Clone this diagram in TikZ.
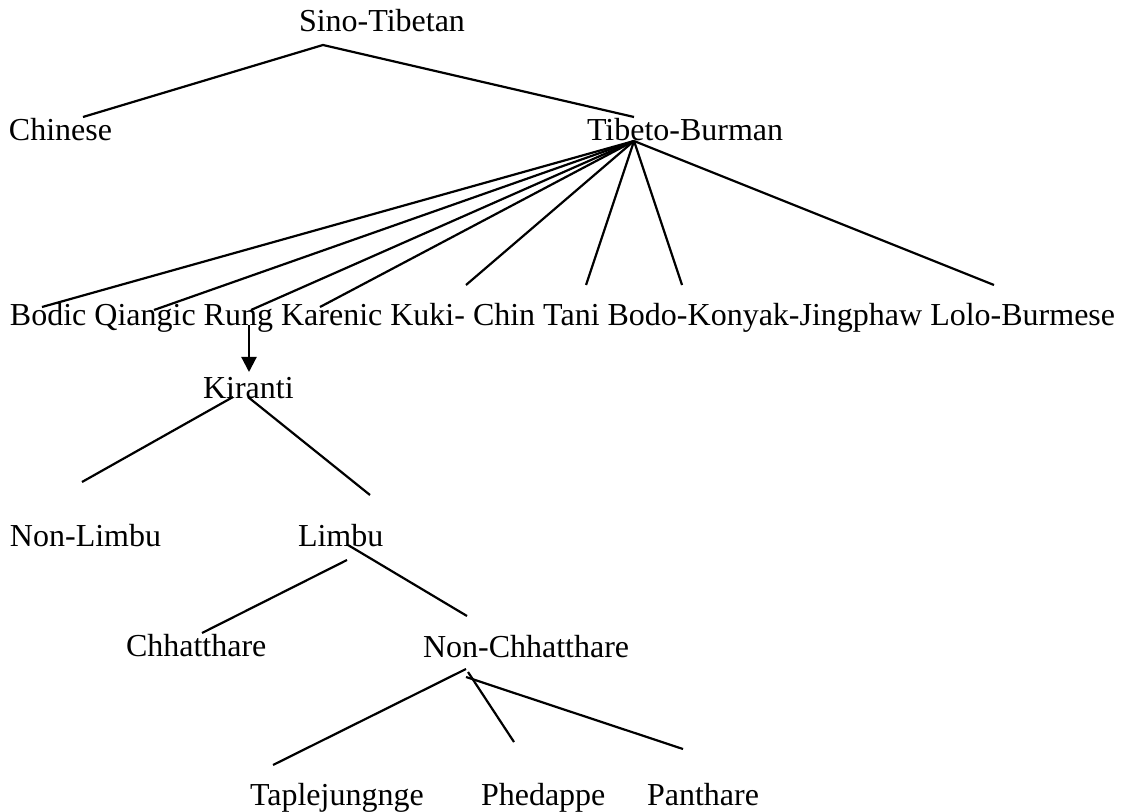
\documentclass[tikz,border=0pt]{standalone}
\usepackage{fontspec}
\setmainfont{Liberation Serif}
\usetikzlibrary{arrows.meta}
\begin{document}
\begin{tikzpicture}[x=0.5pt,y=-0.5pt,
  lang/.style={anchor=base west,inner sep=0pt,outer sep=0pt,font=\fontsize{16pt}{19pt}\selectfont},
  next/.style={lang,xshift=4pt},
  branch/.style={line width=1.1pt,line cap=butt},
  pointer/.style={branch,-{Triangle[length=7.5pt,width=7.5pt]}}]
\useasboundingbox (0,0) rectangle (1129,812);

% language names
\node[lang] (sino) at (299,32) {Sino-Tibetan};
\node[lang] (chinese) at (9,141) {Chinese};
\node[lang] (tb) at (587,141) {Tibeto-Burman};

\node[lang] (bodic) at (10,326) {Bodic};
\node[next] (qiangic) at (bodic.base east) {Qiangic};
\node[next] (rung) at (qiangic.base east) {Rung};
\node[next] (karenic) at (rung.base east) {Karenic};
\node[next] (kuki) at (karenic.base east) {Kuki- Chin};
\node[next] (tani) at (kuki.base east) {Tani};
\node[next] (bodo) at (tani.base east) {Bodo-Konyak-Jingphaw};
\node[next] (lolo) at (bodo.base east) {Lolo-Burmese};

\node[lang] (kiranti) at (203,399) {Kiranti};
\node[lang] (nonlimbu) at (10,546) {Non-Limbu};
\node[lang] (limbu) at (298,546) {Limbu};
\node[lang] (chhatthare) at (126,656) {Chhatthare};
\node[lang] (nonchh) at (423,657) {Non-Chhatthare};
\node[lang] (taple) at (250,805) {Taplejungnge};
\node[lang] (phed) at (481,805) {Phedappe};
\node[lang] (panth) at (647,805) {Panthare};

% branch end points
\coordinate (stTop) at (323,45);
\coordinate (chEnd) at (83,117);
\coordinate (tbEnd) at (634,117);

\coordinate (tbHub) at (634,141);
\coordinate (bodicEnd) at (42,307);
\coordinate (qiangicEnd) at (154,310);
\coordinate (rungEnd) at (251,310);
\coordinate (karenicEnd) at (320,307);
\coordinate (kukiEnd) at (466,285);
\coordinate (taniEnd) at (586,285);
\coordinate (bodoEnd) at (682,285);
\coordinate (loloEnd) at (994,285);

\coordinate (rungFoot) at (249,325);
\coordinate (kirantiHead) at (249,372);

\coordinate (kirL) at (233,397);
\coordinate (kirR) at (248,397);
\coordinate (nonlimbuEnd) at (82,482);
\coordinate (limbuEnd) at (370,495);

\coordinate (limL) at (347,560);
\coordinate (limR) at (348,545);
\coordinate (chhEnd) at (202,633);
\coordinate (nonchhEnd) at (467,616);

\coordinate (ncTop) at (466,669);
\coordinate (ncMid) at (468,672);
\coordinate (ncLow) at (466,677);
\coordinate (tapleEnd) at (273,765);
\coordinate (phedEnd) at (514,742);
\coordinate (panthEnd) at (683,749);

% Sino-Tibetan split
\draw[branch] (chEnd) -- (stTop) -- (tbEnd);

% Tibeto-Burman fan
\foreach \e in {bodicEnd,qiangicEnd,rungEnd,karenicEnd,kukiEnd,taniEnd,bodoEnd,loloEnd}
  \draw[branch] (tbHub) -- (\e);

% Rung to Kiranti
\draw[pointer] (rungFoot) -- (kirantiHead);

% Kiranti split
\draw[branch] (kirL) -- (nonlimbuEnd);
\draw[branch] (kirR) -- (limbuEnd);

% Limbu split
\draw[branch] (limL) -- (chhEnd);
\draw[branch] (limR) -- (nonchhEnd);

% Non-Chhatthare split
\draw[branch] (ncTop) -- (tapleEnd);
\draw[branch] (ncMid) -- (phedEnd);
\draw[branch] (ncLow) -- (panthEnd);
\end{tikzpicture}
\end{document}
